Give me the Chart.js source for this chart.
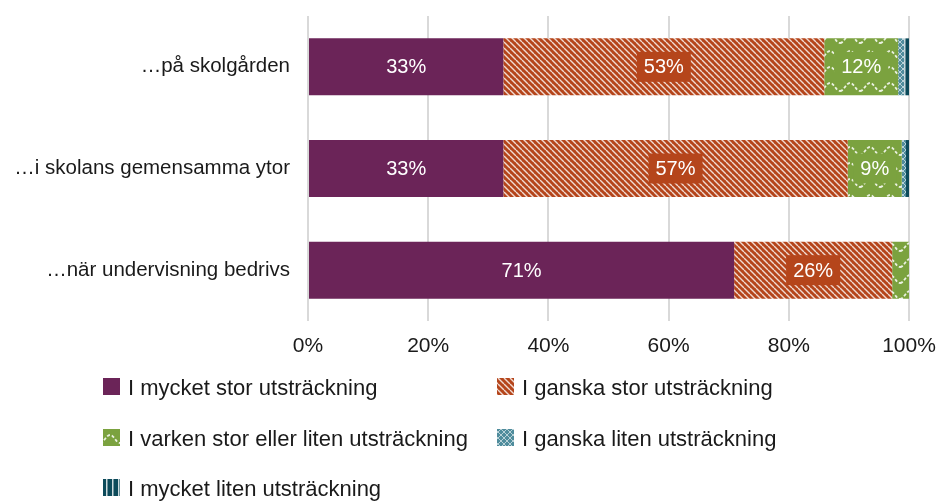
<!DOCTYPE html>
<html>
<head>
<meta charset="utf-8">
<script src="https://cdn.jsdelivr.net/npm/chart.js@4/dist/chart.umd.min.js"></script>
<style>
  body { margin: 0; background: #fff; }
  #wrap { width: 937px; height: 501px; }
</style>
</head>
<body>
<div id="wrap"><canvas id="chart" width="937" height="501"></canvas></div>
<script>
const categories = ['…på skolgården', '…i skolans gemensamma ytor', '…när undervisning bedrivs'];
const seriesNames = [
  'I mycket stor utsträckning',
  'I ganska stor utsträckning',
  'I varken stor eller liten utsträckning',
  'I ganska liten utsträckning',
  'I mycket liten utsträckning'
];
const mycketStor = [32.5, 32.5, 70.9];
const ganskaStor = [53.4, 57.3, 26.3];
const varken = [12.3, 9.0, 2.8];
const ganskaLiten = [1.0, 0.7, 0];
const mycketLiten = [0.8, 0.5, 0];
const xTicks = [0, 20, 40, 60, 80, 100];

const FONT = '"Liberation Sans", Arial, sans-serif';

// small canvas tiles for the hatched fills
function makePattern(base, w, h, draw) {
  const c = document.createElement('canvas');
  c.width = w; c.height = h;
  const g = c.getContext('2d');
  g.fillStyle = base;
  g.fillRect(0, 0, w, h);
  draw(g, w, h);
  return g.createPattern(c, 'repeat');
}

const purple = '#6b2458';
const orange = '#b5451b';
const green = '#7ba23f';
const teal = '#4f8c9c';
const dark = '#0c4a5a';

const orangeFill = makePattern(orange, 6, 6, (g, w, h) => {
  g.strokeStyle = 'rgba(255,255,255,0.8)';
  g.lineWidth = 1.4;
  for (const o of [-w, 0, w]) {
    g.beginPath(); g.moveTo(o, 0); g.lineTo(o + w, h); g.stroke();
  }
});
const greenFill = makePattern(green, 20, 16, (g) => {
  g.strokeStyle = 'rgba(255,255,255,0.85)';
  g.lineWidth = 1.8;
  g.setLineDash([3, 2]);
  g.beginPath();
  g.moveTo(0, 11);
  g.bezierCurveTo(4, 11, 6, 3, 10, 3);
  g.bezierCurveTo(14, 3, 16, 11, 20, 11);
  g.stroke();
});
const tealFill = makePattern(teal, 6, 6, (g, w, h) => {
  g.strokeStyle = 'rgba(255,255,255,0.6)';
  g.lineWidth = 1;
  g.beginPath(); g.moveTo(0, 0); g.lineTo(w, h); g.stroke();
  g.beginPath(); g.moveTo(w, 0); g.lineTo(0, h); g.stroke();
});
const darkFill = makePattern(dark, 6, 6, (g) => {
  g.fillStyle = 'rgba(255,255,255,0.8)';
  g.fillRect(4, 0, 1.5, 6);
});

const fills = [purple, orangeFill, greenFill, tealFill, darkFill];
const labelBg = [null, orange, green, teal, dark];
const seriesData = [mycketStor, ganskaStor, varken, ganskaLiten, mycketLiten];

// value labels in the middle of each segment
const valueLabels = {
  id: 'valueLabels',
  afterDatasetsDraw(chart) {
    const ctx = chart.ctx;
    ctx.save();
    ctx.font = '20px ' + FONT;
    ctx.textAlign = 'center';
    ctx.textBaseline = 'middle';
    chart.data.datasets.forEach((ds, di) => {
      const meta = chart.getDatasetMeta(di);
      meta.data.forEach((bar, i) => {
        const v = ds.data[i];
        if (v < 5) return;
        const cx = (bar.x + bar.base) / 2;
        const cy = bar.y;
        const txt = Math.round(v) + '%';
        const tw = ctx.measureText(txt).width;
        if (labelBg[di]) {
          ctx.fillStyle = labelBg[di];
          ctx.fillRect(cx - tw / 2 - 7, cy - 15, tw + 14, 30);
        }
        ctx.fillStyle = '#ffffff';
        ctx.fillText(txt, cx, cy + 1);
      });
    });
    ctx.restore();
  }
};

// two-column legend below the axis
const gridLegend = {
  id: 'gridLegend',
  afterDraw(chart) {
    const ctx = chart.ctx;
    const cols = [103, 497];
    const rows = [388, 439, 489];
    ctx.save();
    ctx.font = '22px ' + FONT;
    ctx.textBaseline = 'middle';
    ctx.textAlign = 'left';
    seriesNames.forEach((name, i) => {
      const x = cols[i % 2];
      const y = rows[Math.floor(i / 2)];
      ctx.fillStyle = fills[i];
      ctx.fillRect(x, y - 10, 17, 17);
      ctx.fillStyle = '#1a1a1a';
      ctx.fillText(name, x + 25, y + 1);
    });
    ctx.restore();
  }
};

new Chart(document.getElementById('chart'), {
  type: 'bar',
  data: {
    labels: categories,
    datasets: seriesNames.map((name, i) => ({
      label: name,
      data: seriesData[i],
      backgroundColor: fills[i],
      borderWidth: 0,
      barPercentage: 0.56,
      categoryPercentage: 1
    }))
  },
  options: {
    indexAxis: 'y',
    responsive: false,
    animation: false,
    layout: { padding: { top: 16, bottom: 140, right: 28, left: 0 } },
    plugins: {
      legend: { display: false },
      tooltip: { enabled: false }
    },
    scales: {
      x: {
        stacked: true,
        min: 0,
        max: 100,
        afterBuildTicks: (s) => { s.ticks = xTicks.map(v => ({ value: v })); },
        ticks: {
          callback: (v) => v + '%',
          color: '#1a1a1a',
          font: { family: FONT, size: 21 },
          padding: 13,
          maxRotation: 0
        },
        grid: { color: '#d9d9d9', lineWidth: 2, drawTicks: false },
        border: { display: false },
        afterFit: (s) => { s.height = 40; s.paddingLeft = 0; s.paddingRight = 0; }
      },
      y: {
        stacked: true,
        ticks: {
          color: '#1a1a1a',
          font: { family: FONT, size: 20.5 },
          padding: 18
        },
        grid: { display: false, drawTicks: false },
        border: { display: false },
        afterFit: (s) => { s.width = 308; s.paddingTop = 0; s.paddingBottom = 0; }
      }
    }
  },
  plugins: [valueLabels, gridLegend]
});
</script>
</body>
</html>
